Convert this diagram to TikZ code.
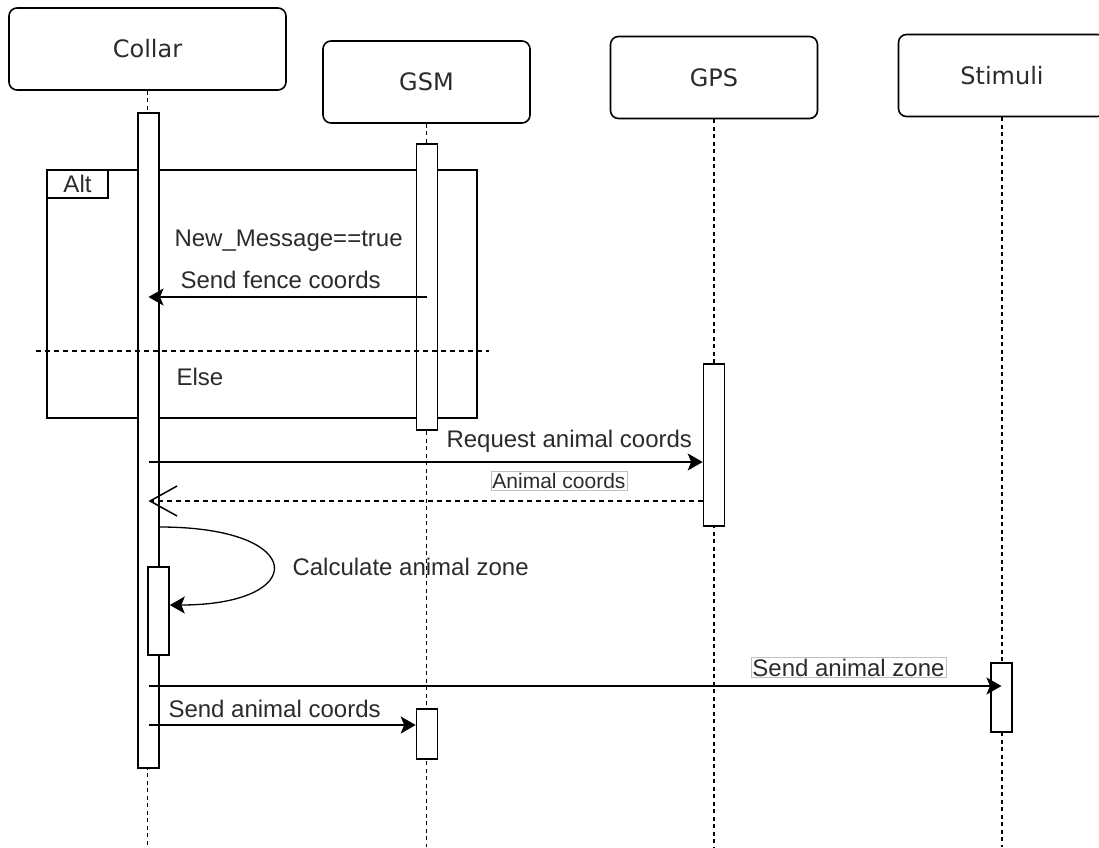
\documentclass[tikz,border=0pt]{standalone}
\usepackage{fontspec}
\setmainfont{Liberation Sans}
\newfontfamily\headfont{DejaVu Sans}
\usepackage{xcolor}
\usepackage{tikz}
\usetikzlibrary{arrows.meta,positioning}
\definecolor{txt}{HTML}{2B2B2B}

\begin{document}
\begin{tikzpicture}[x=1pt, y=-1pt,
    every node/.style={text=txt, font=\fontsize{24}{28}\selectfont},
    head/.style={draw, rounded corners=8pt, line width=1.6pt, minimum height=82pt, minimum width=207pt, font=\headfont\fontsize{24}{28}\selectfont},
    life/.style={dash pattern=on 4pt off 3.5pt, line width=1.5pt},
    act/.style={draw, fill=white, line width=1.6pt, minimum width=21pt, inner sep=0pt},
    msg/.style={-{Stealth[length=15pt, width=17pt, inset=3.5pt]}, line width=1.6pt},
    reply/.style={dash pattern=on 5pt off 4pt, line width=1.5pt, -{Straight Barb[length=27pt, width=30pt]}},
    lbl/.style={draw=gray!50, line width=0.8pt, inner sep=1.5pt}]
        \useasboundingbox (0,0) rectangle (1099,847);
        \node[head, minimum width=277pt] (collar) at (147.5,49) {Collar};
        \node[head] (gsm) at (426.5,82) {GSM};
        \node[head] (gps) at (714,77.5) {GPS};
        \node[head] (stim) at (1002,75.5) {Stimuli};
        \foreach \n in {collar,gsm,gps,stim}
            \draw[life] (\n.south) -- (\n.south |- 0,847);
        % alt frame
        \node[draw, line width=1.6pt, minimum width=430pt, minimum height=248pt, inner sep=0pt] (alt) at (262,294) {};
        \node[draw, line width=1.6pt, anchor=north west, minimum width=61pt, minimum height=28pt, inner sep=0pt] (tab) at (alt.north west) {Alt};
        % activations
        \node[act, minimum height=655pt] (collarA) at (148.5,440.5) {};
        \node[act, minimum height=286pt] (gsmA) at (427,287) {};
        \node[act, minimum height=162pt] (gpsA) at (714,445) {};
        \node[act, minimum height=88pt] (calcA) at (158.5,611) {};
        \node[act, minimum height=69pt] (stimA) at (1001.5,697.5) {};
        \node[act, minimum height=50pt] (gsmB) at (427,734) {};
        \draw[dash pattern=on 5pt off 4pt, line width=1.5pt] ([xshift=-10pt]alt.west |- 0,351) -- ([xshift=11pt]alt.east |- 0,351);
        \node[anchor=west] (guard) at (171,241) {New\_Message==true};
        \node[anchor=west] (elseL) at (173,377) {Else};
        % messages
        \node[anchor=west] (fenceL) at (177,280) {Send fence coords};
        \draw[msg] (gsmA.center |- 0,297) -- (collarA.center |- 0,297);
        \node[anchor=west] (reqL) at (443,441) {Request animal coords};
        \draw[msg] (collarA.center |- 0,462) -- (gpsA.west |- 0,462);
        \node[lbl, font=\fontsize{21}{24}\selectfont] (ansL) at (559,481) {Animal coords};
        \draw[reply] (gpsA.west |- 0,501) -- (collarA.center |- 0,501);
        \node[anchor=west] (calcL) at (289,567) {Calculate animal zone};
        \draw[msg, line width=1.3pt] (collarA.east |- 0,527) .. controls (309,527) and (309,605) .. (calcA.east |- 0,605);
        \node[lbl] (zoneL) at (848.5,667.5) {Send animal zone};
        \draw[msg] (collarA.center |- 0,686) -- (stimA.center |- 0,686);
        \node[anchor=west] (sendL) at (165,709) {Send animal coords};
        \draw[msg] (collarA.center |- 0,725) -- (gsmB.west |- 0,725);
    \end{tikzpicture}
\end{document}
